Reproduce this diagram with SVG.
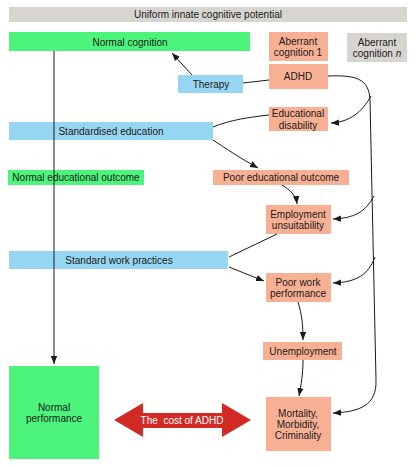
<svg xmlns="http://www.w3.org/2000/svg" width="415" height="467" viewBox="0 0 415 467">
<style>
text{font-family:"Liberation Sans",Arial,sans-serif;font-size:10px;fill:#1a1a1a;text-anchor:middle}
.g{fill:#4cf47c}.s{fill:#f8b095}.b{fill:#96d6f2}.y{fill:#d7d5d0}
.c path{fill:none;stroke:#1a1a1a;stroke-width:1}
</style>
<defs>
<marker id="ah" viewBox="0 0 10 10" refX="10" refY="5" markerWidth="8" markerHeight="8" markerUnits="userSpaceOnUse" orient="auto">
<path d="M0,1 L10,5 L0,9 Z" fill="#1a1a1a"/>
</marker>
</defs>
<rect width="415" height="467" fill="#ffffff"/>
<g id="uniform"><rect class="y" x="9" y="7" width="398" height="15"/><text x="208" y="18">Uniform innate cognitive potential</text></g>
<g id="normal-cognition"><rect class="g" x="9" y="32" width="241" height="19"/><text x="130" y="46">Normal cognition</text></g>
<g id="aberrant-1"><rect class="s" x="269" y="32" width="59" height="29"/><text x="298" y="45">Aberrant</text><text x="298" y="56">cognition 1</text></g>
<g id="aberrant-n"><rect class="y" x="347" y="33" width="60" height="29"/><text x="377" y="46">Aberrant</text><text x="377" y="57">cognition <tspan font-style="italic">n</tspan></text></g>
<g id="adhd"><rect class="s" x="269" y="64" width="59" height="25"/><text x="298" y="80">ADHD</text></g>
<g id="therapy"><rect class="b" x="178" y="75" width="65" height="18"/><text x="211" y="88">Therapy</text></g>
<g id="educational-disability"><rect class="s" x="269" y="107" width="59" height="24"/><text x="298" y="117">Educational</text><text x="298" y="129">disability</text></g>
<g id="standardised-education"><rect class="b" x="9" y="122" width="204" height="18"/><text x="111" y="135">Standardised education</text></g>
<g id="normal-educational-outcome"><rect class="g" x="8" y="170" width="136" height="15"/><text x="76" y="181">Normal educational outcome</text></g>
<g id="poor-educational-outcome"><rect class="s" x="213" y="170" width="136" height="15"/><text x="281" y="181">Poor educational outcome</text></g>
<g id="employment-unsuitability"><rect class="s" x="266" y="205" width="65" height="29"/><text x="298" y="218">Employment</text><text x="298" y="229">unsuitability</text></g>
<g id="standard-work-practices"><rect class="b" x="9" y="251" width="219" height="18"/><text x="119" y="264">Standard work practices</text></g>
<g id="poor-work-performance"><rect class="s" x="266" y="273" width="65" height="29"/><text x="298" y="286">Poor work</text><text x="298" y="297">performance</text></g>
<g id="unemployment"><rect class="s" x="263" y="342" width="79" height="18"/><text x="303" y="355">Unemployment</text></g>
<g id="mortality"><rect class="s" x="266" y="397" width="65" height="54"/><text x="298" y="417">Mortality,</text><text x="298" y="428">Morbidity,</text><text x="298" y="439">Criminality</text></g>
<g id="normal-performance"><rect class="g" x="9" y="366" width="90" height="93"/><text x="54" y="411">Normal</text><text x="54" y="422">performance</text></g>
<g id="cost-of-adhd"><path d="M114,420 L143,403 L143,413 L222,413 L222,403 L251,420 L222,437 L222,428 L143,428 L143,437 Z" fill="#d22b26"/><text x="182" y="424" style="fill:#ffffff;white-space:pre">The  cost of ADHD</text></g>
<g id="connectors" class="c">
<path d="M54,51 L54,364" marker-end="url(#ah)"/>
<path d="M192,75 L172,53" marker-end="url(#ah)"/>
<path d="M269,80 L243,83"/>
<path d="M213,127 C230,120 250,117 269,115"/>
<path d="M213,140 C225,148 240,158 258,168" marker-end="url(#ah)"/>
<path d="M282,185 C290,190 296,195 297,204" marker-end="url(#ah)"/>
<path d="M277,234 L229,257"/>
<path d="M229,267 L264,281" marker-end="url(#ah)"/>
<path d="M298,302 C302,315 303,325 303,340" marker-end="url(#ah)"/>
<path d="M303,360 C303,375 301,385 299,396" marker-end="url(#ah)"/>
<path d="M328,76 C355,75 369,78 370,100 L376,380 C377,405 360,412 333,413" marker-end="url(#ah)"/>
<path d="M371,96 C362,112 350,122 331,123" marker-end="url(#ah)"/>
<path d="M374,196 C365,212 355,218 333,219" marker-end="url(#ah)"/>
<path d="M375,257 C368,275 357,282 333,283" marker-end="url(#ah)"/>
</g>
</svg>
